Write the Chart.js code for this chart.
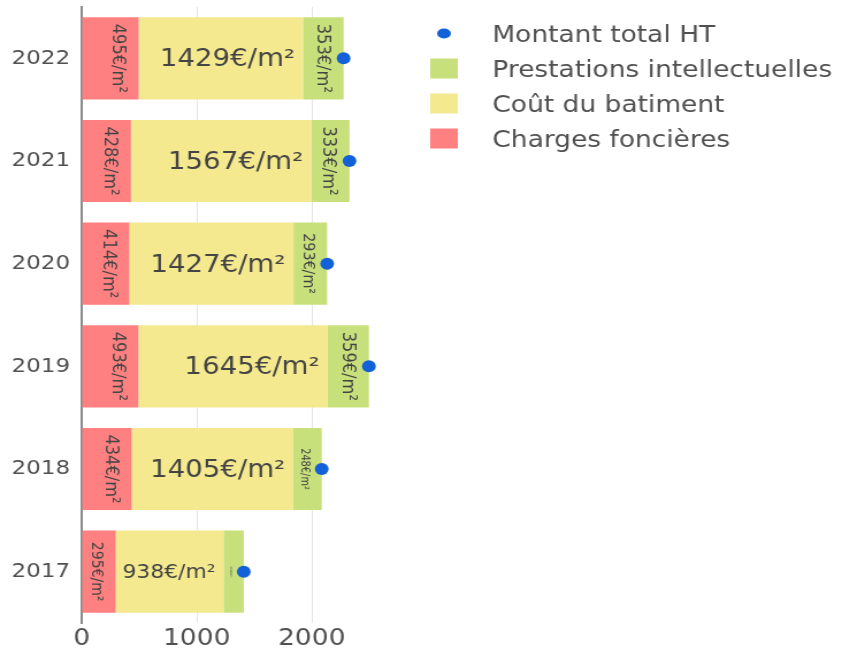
<!DOCTYPE html>
<html>
<head>
<meta charset="utf-8">
<script src="https://cdn.jsdelivr.net/npm/chart.js@4"></script>
<style>
  body { margin: 0; background: #fff; overflow: hidden; }
  #costChart { transform: scaleX(1.1503); transform-origin: 0 0; }
</style>
</head>
<body>
<canvas id="costChart" width="732" height="657"></canvas>
<script>
// cost per m² by year
var years = ['2017', '2018', '2019', '2020', '2021', '2022'];
var chargesFoncieres = [295, 434, 493, 414, 428, 495];
var coutBatiment = [938, 1405, 1645, 1427, 1567, 1429];
var prestations = [176, 248, 359, 293, 333, 353];
var montantTotal = [1409, 2087, 2497, 2134, 2328, 2277];
var xTicks = [0, 1000, 2000];

var FONT = '"DejaVu Sans", Verdana, sans-serif';
var TEXT = '#505050';

// value labels inside each segment, turned on their side when the segment is narrow
var barLabels = {
    id: 'barLabels',
    afterDatasetsDraw: function (chart) {
        var ctx = chart.ctx;
        chart.data.datasets.forEach(function (ds, i) {
            if (ds.type === 'line') return;
            chart.getDatasetMeta(i).data.forEach(function (bar, j) {
                var text = ds.data[j] + '€/m²';
                var right = Math.max(bar.x, bar.base);
                var w = Math.abs(bar.x - bar.base);
                var h = bar.height;
                ctx.save();
                ctx.font = '100px ' + FONT;
                var em = ctx.measureText(text).width / 100;
                var flat = Math.min(24, (w - 13) / em);
                var turned = Math.min(16.5, w - 15, (h - 13) / em);
                ctx.fillStyle = '#444';
                if (flat >= turned) {
                    ctx.font = flat + 'px ' + FONT;
                    ctx.textAlign = 'right';
                    ctx.textBaseline = 'alphabetic';
                    ctx.fillText(text, right - 7, bar.y + flat * 0.33);
                } else if (turned > 1) {
                    ctx.font = turned + 'px ' + FONT;
                    ctx.translate(right - 10, bar.y);
                    ctx.rotate(Math.PI / 2);
                    ctx.textAlign = 'center';
                    ctx.textBaseline = 'top';
                    ctx.fillText(text, 0, 0);
                }
                ctx.restore();
            });
        });
    }
};

// legend on the right, last dataset first
var sideLegend = {
    id: 'sideLegend',
    afterDraw: function (chart) {
        var ctx = chart.ctx;
        var sets = chart.data.datasets.slice().reverse();
        ctx.save();
        sets.forEach(function (ds, k) {
            var y = 33.5 + k * 35;
            ctx.fillStyle = ds.backgroundColor;
            if (ds.type === 'line') {
                ctx.beginPath();
                ctx.ellipse(386, y, 6, 5, 0, 0, Math.PI * 2);
                ctx.fill();
            } else {
                ctx.fillRect(374, y - 10, 24, 20);
            }
            ctx.fillStyle = TEXT;
            ctx.font = '23px ' + FONT;
            ctx.textAlign = 'left';
            ctx.textBaseline = 'alphabetic';
            ctx.fillText(ds.label, 428, y + 8.4);
        });
        ctx.restore();
    }
};

var ctx = document.getElementById('costChart').getContext('2d');
var costChart = new Chart(ctx, {
    type: 'bar',
    data: {
        labels: years,
        datasets: [{
            label: 'Charges foncières',
            data: chargesFoncieres,
            backgroundColor: '#ff8080',
            order: 1
        }, {
            label: 'Coût du batiment',
            data: coutBatiment,
            backgroundColor: '#f4e98e',
            order: 1
        }, {
            label: 'Prestations intellectuelles',
            data: prestations,
            backgroundColor: '#c8e07c',
            order: 1
        }, {
            type: 'line',
            label: 'Montant total HT',
            data: montantTotal,
            indexAxis: 'y',
            showLine: false,
            backgroundColor: '#1261d8',
            borderColor: '#1261d8',
            pointRadius: 6,
            pointBorderWidth: 0,
            order: 0
        }]
    },
    options: {
        indexAxis: 'y',
        responsive: false,
        animation: false,
        devicePixelRatio: 1,
        categoryPercentage: 1,
        barPercentage: 0.8,
        layout: { padding: { left: 0, top: 7, right: 396, bottom: 0 } },
        plugins: {
            legend: { display: false },
            tooltip: { enabled: false }
        },
        scales: {
            x: {
                stacked: true,
                min: 0,
                max: 2650,
                afterFit: function (scale) {
                    scale.height = 34;
                    scale.paddingLeft = 0;
                    scale.paddingRight = 0;
                },
                afterBuildTicks: function (scale) {
                    scale.ticks = xTicks.map(function (v) { return { value: v }; });
                },
                grid: { color: '#e4e4e4', lineWidth: 1, drawTicks: false },
                border: { display: false },
                ticks: {
                    padding: 2,
                    color: TEXT,
                    font: { family: FONT, size: 23 },
                    maxRotation: 0,
                    callback: function (v) { return String(v); }
                }
            },
            y: {
                stacked: true,
                reverse: true,
                afterFit: function (scale) {
                    scale.width = 71;
                    scale.paddingTop = 0;
                    scale.paddingBottom = 0;
                },
                grid: { display: false, drawTicks: false },
                border: { display: true, color: '#8a8a8a', width: 2 },
                ticks: {
                    padding: 10,
                    color: TEXT,
                    font: { family: FONT, size: 20 }
                }
            }
        }
    },
    plugins: [barLabels, sideLegend]
});
</script>
</body>
</html>
